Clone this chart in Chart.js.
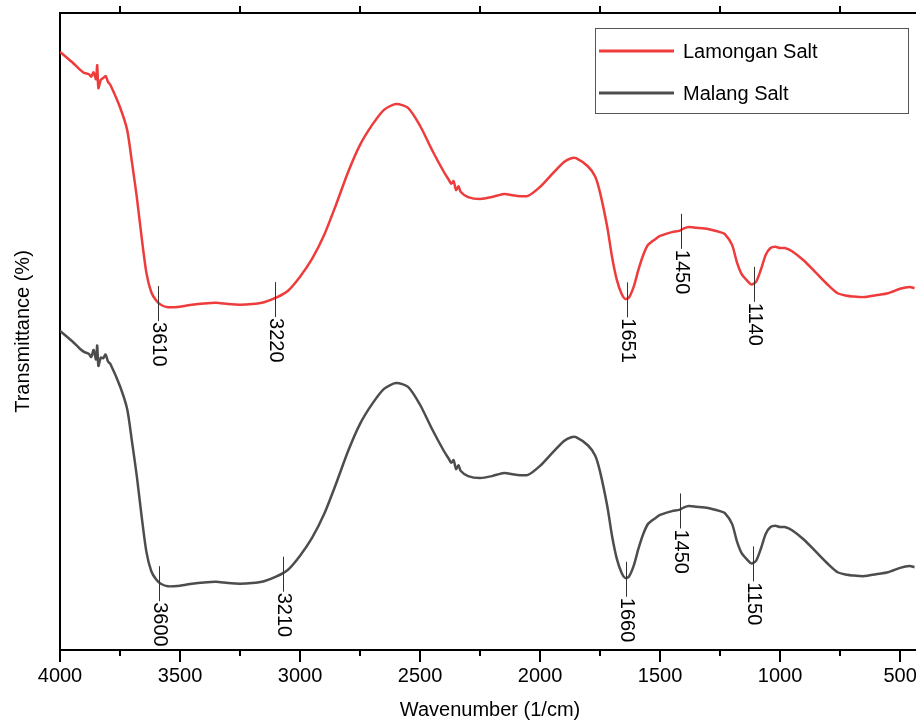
<!DOCTYPE html>
<html>
<head>
<meta charset="utf-8">
<script src="https://cdn.jsdelivr.net/npm/chart.js@4.4.1/dist/chart.umd.min.js"></script>
<style>
  html, body { margin: 0; padding: 0; background: #fff; overflow: hidden; }
  #wrap { width: 920px; height: 722px; }
</style>
</head>
<body>
<div id="wrap"><canvas id="ftir" width="920" height="722"></canvas></div>
<script>
// wavenumber (1/cm)
const wavenumber = [4000, 3950, 3917, 3900, 3880, 3870, 3860, 3850, 3845, 3840, 3830, 3820, 3810, 3800, 3790,
  3750, 3720, 3700, 3680, 3660, 3640, 3620, 3600, 3580, 3550, 3500, 3450, 3400, 3350, 3300, 3250, 3200,
  3150, 3100, 3050, 3000, 2950, 2900, 2850, 2800, 2750, 2700, 2650, 2600, 2550, 2500, 2450, 2400, 2380,
  2370, 2360, 2350, 2340, 2330, 2300, 2250, 2200, 2150, 2100, 2050, 2000, 1950, 1900, 1870, 1850, 1800,
  1770, 1750, 1720, 1700, 1680, 1660, 1645, 1630, 1610, 1590, 1570, 1550, 1520, 1500, 1450, 1420, 1400,
  1380, 1350, 1300, 1250, 1230, 1200, 1180, 1160, 1140, 1120, 1100, 1080, 1060, 1040, 1020, 1000, 980,
  950, 900, 850, 800, 760, 720, 700, 650, 600, 550, 500, 460, 440];

const lamongan = [93.9, 92.3, 91.1, 90.6, 90.4, 90.0, 90.7, 89.6, 91.8, 88.2, 89.5, 89.8, 90.1, 89.2, 88.7,
  85.2, 81.6, 76.5, 71.1, 64.8, 59.2, 56.2, 54.9, 54.2, 53.8, 53.9, 54.2, 54.4, 54.5, 54.3, 54.2, 54.3,
  54.6, 55.3, 56.4, 58.6, 61.4, 65.1, 69.9, 75.0, 79.3, 82.4, 84.8, 85.7, 85.1, 82.3, 78.5, 75.0, 73.8,
  73.2, 73.6, 72.2, 72.8, 71.9, 71.1, 70.8, 71.1, 71.6, 71.3, 71.3, 72.7, 74.7, 76.6, 77.2, 77.2, 75.9,
  74.3, 71.8, 66.4, 61.7, 58.1, 55.9, 55.1, 55.3, 57.0, 59.7, 62.0, 63.6, 64.5, 65.0, 65.6, 65.8, 66.2,
  66.4, 66.3, 66.1, 65.6, 65.3, 63.6, 60.9, 59.0, 58.1, 57.4, 57.8, 59.7, 62.0, 63.1, 63.3, 63.1, 63.1,
  62.6, 61.1, 59.2, 57.3, 56.0, 55.6, 55.5, 55.4, 55.7, 56.0, 56.7, 57.0, 56.8];

const malang = [50.1, 48.5, 47.3, 46.8, 46.5, 46.0, 47.1, 45.6, 47.8, 44.6, 45.9, 45.8, 46.4, 45.3, 44.9,
  41.4, 37.8, 32.7, 27.3, 21.0, 15.4, 12.4, 11.1, 10.4, 10.0, 10.1, 10.4, 10.6, 10.7, 10.5, 10.4, 10.5,
  10.8, 11.5, 12.6, 14.8, 17.6, 21.3, 26.1, 31.2, 35.5, 38.6, 41.0, 41.9, 41.3, 38.5, 34.7, 31.2, 30.0,
  29.4, 29.8, 28.4, 29.0, 28.1, 27.3, 27.0, 27.3, 27.8, 27.5, 27.5, 28.9, 30.9, 32.8, 33.4, 33.4, 32.1,
  30.5, 28.0, 22.6, 17.9, 14.3, 12.1, 11.3, 11.5, 13.2, 15.9, 18.2, 19.8, 20.7, 21.2, 21.8, 22.0, 22.4,
  22.6, 22.5, 22.3, 21.8, 21.5, 19.8, 17.1, 15.2, 14.3, 13.6, 14.0, 15.9, 18.2, 19.3, 19.5, 19.3, 19.3,
  18.8, 17.3, 15.4, 13.5, 12.2, 11.8, 11.7, 11.6, 11.9, 12.2, 12.9, 13.2, 13.0];

const seriesNames = ["Lamongan Salt", "Malang Salt"];

// peak labels and where their markers sit on the x axis
const lamonganPeakLabels = ["3610", "3220", "1651", "1450", "1140"];
const lamonganPeakAt = [3592, 3104, 1637, 1412, 1108];
const malangPeakLabels = ["3600", "3210", "1660", "1450", "1150"];
const malangPeakAt = [3587, 3071, 1642, 1417, 1112];

const majorTicks = [4000, 3500, 3000, 2500, 2000, 1500, 1000, 500];
const minorTicks = [3750, 3250, 2750, 2250, 1750, 1250, 750];

const FONT = "'Liberation Sans', Arial, sans-serif";
const peaks = [
  { labels: lamonganPeakLabels, at: lamonganPeakAt },
  { labels: malangPeakLabels, at: malangPeakAt },
];

function valueAt(data, w) {
  for (let i = 0; i < data.length - 1; i++) {
    const a = data[i], b = data[i + 1];
    if (w <= a.x && w >= b.x) {
      const t = (a.x - w) / (a.x - b.x);
      return a.y + (b.y - a.y) * t;
    }
  }
  return data[data.length - 1].y;
}

const extras = {
  id: "extras",
  afterDraw(chart) {
    const { ctx, chartArea: a, scales } = chart;
    const x = scales.x, y = scales.y;
    ctx.save();

    // top frame line + tick marks
    ctx.strokeStyle = "#000";
    ctx.lineWidth = 2;
    ctx.beginPath();
    ctx.moveTo(a.left - 1, a.top);
    ctx.lineTo(a.right, a.top);
    ctx.stroke();
    majorTicks.forEach(v => {
      const px = Math.round(x.getPixelForValue(v));
      ctx.beginPath();
      ctx.moveTo(px, a.bottom);
      ctx.lineTo(px, a.bottom + 12);
      ctx.stroke();
    });
    minorTicks.forEach(v => {
      const px = Math.round(x.getPixelForValue(v));
      ctx.beginPath();
      ctx.moveTo(px, a.bottom);
      ctx.lineTo(px, a.bottom + 6);
      ctx.stroke();
      ctx.beginPath();
      ctx.moveTo(px, a.top);
      ctx.lineTo(px, a.top - 7);
      ctx.stroke();
    });

    // peak markers
    ctx.lineWidth = 1;
    ctx.strokeStyle = "#333";
    ctx.fillStyle = "#000";
    ctx.font = "20px " + FONT;
    peaks.forEach((p, i) => {
      const data = chart.data.datasets[i].data;
      p.at.forEach((w, k) => {
        const px = Math.round(x.getPixelForValue(w)) + 0.5;
        const py = y.getPixelForValue(valueAt(data, w));
        ctx.beginPath();
        ctx.moveTo(px, py - 16);
        ctx.lineTo(px, py + 19);
        ctx.stroke();
        ctx.save();
        ctx.translate(px, py + 20);
        ctx.rotate(Math.PI / 2);
        ctx.textAlign = "left";
        ctx.textBaseline = "middle";
        ctx.fillText(p.labels[k], 0, 0);
        ctx.restore();
      });
    });

    // legend box
    const bx = a.right - 325, by = a.top + 15, bw = 313, bh = 85;
    ctx.strokeStyle = "#555";
    ctx.lineWidth = 1;
    ctx.strokeRect(bx + 0.5, by + 0.5, bw, bh);
    ctx.font = "20px " + FONT;
    ctx.textAlign = "left";
    ctx.textBaseline = "middle";
    chart.data.datasets.forEach((ds, i) => {
      const ly = by + 23 + i * 42;
      ctx.strokeStyle = ds.borderColor;
      ctx.lineWidth = 3;
      ctx.beginPath();
      ctx.moveTo(bx + 4, ly);
      ctx.lineTo(bx + 79, ly);
      ctx.stroke();
      ctx.fillStyle = "#000";
      ctx.fillText(ds.label, bx + 88, ly + 1);
    });
    ctx.restore();
  }
};

const ctx = document.getElementById("ftir");

new Chart(ctx, {
  type: "line",
  data: {
    datasets: [
      {
        label: seriesNames[0],
        data: wavenumber.map((w, i) => ({ x: w, y: lamongan[i] })),
        borderColor: "#ee3b3b",
        borderWidth: 2.5,
        pointRadius: 0,
        tension: 0.25,
      },
      {
        label: seriesNames[1],
        data: wavenumber.map((w, i) => ({ x: w, y: malang[i] })),
        borderColor: "#4d4d4d",
        borderWidth: 2.5,
        pointRadius: 0,
        tension: 0.25,
      },
    ],
  },
  options: {
    responsive: false,
    animation: false,
    devicePixelRatio: 1,
    layout: { padding: { top: 13, right: 0, left: 0, bottom: 0 } },
    plugins: { legend: { display: false }, tooltip: { enabled: false } },
    scales: {
      x: {
        type: "linear",
        reverse: true,
        min: 417,
        max: 4000,
        afterBuildTicks: (scale) => { scale.ticks = majorTicks.map(v => ({ value: v })); },
        afterFit: (scale) => {
          scale.height = 72;
          scale.paddingLeft = 0;
          scale.paddingRight = 0;
        },
        grid: { display: false, drawTicks: false },
        border: { display: true, color: "#000", width: 2 },
        ticks: {
          maxRotation: 0,
          autoSkip: false,
          padding: 14,
          color: "#000",
          font: { family: FONT, size: 20 },
          callback: (v) => String(v),
        },
        title: {
          display: true,
          text: "Wavenumber (1/cm)",
          color: "#000",
          font: { family: FONT, size: 20 },
          padding: { top: 2, bottom: 0 },
        },
      },
      y: {
        min: 0,
        max: 100,
        afterFit: (scale) => { scale.width = 60; },
        grid: { display: false, drawTicks: false },
        border: { display: true, color: "#000", width: 2 },
        ticks: { display: false },
        title: {
          display: true,
          text: "Transmittance (%)",
          color: "#000",
          font: { family: FONT, size: 20 },
          padding: { top: 11, bottom: 0 },
        },
      },
    },
  },
  plugins: [extras],
});
</script>
</body>
</html>
